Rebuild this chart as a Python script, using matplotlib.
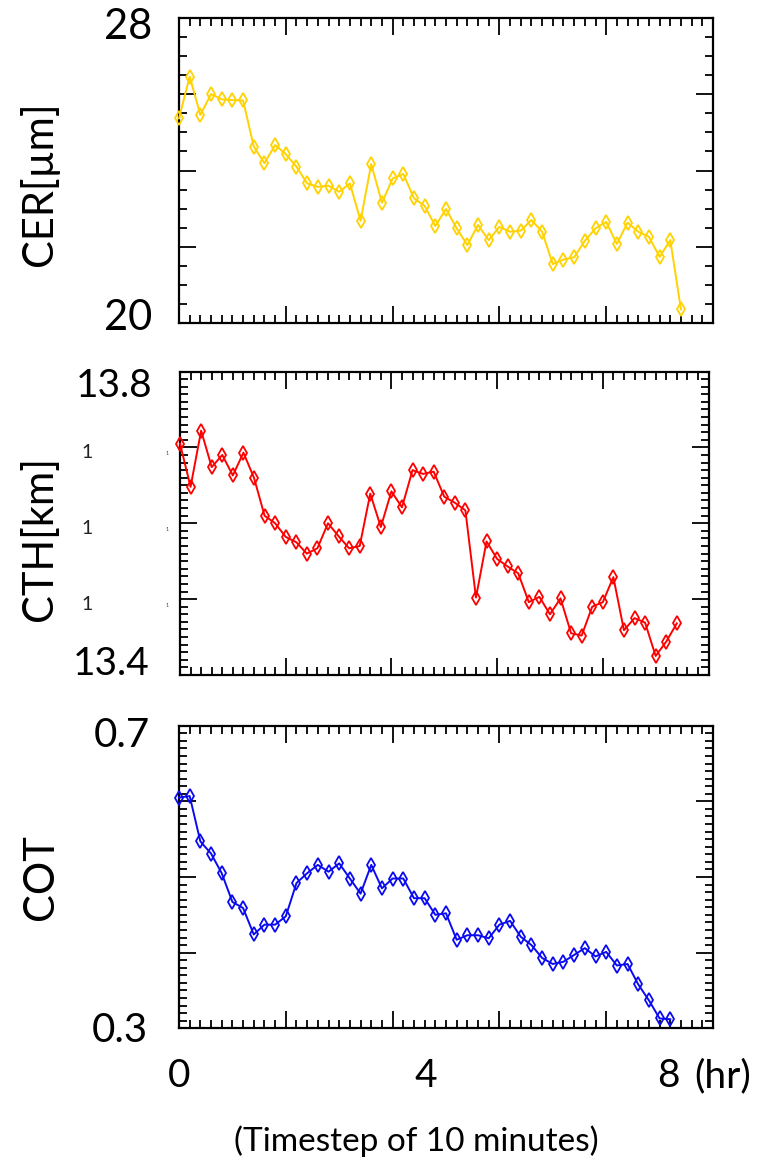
import matplotlib
matplotlib.use("Agg")
import matplotlib.pyplot as plt
from matplotlib.ticker import MultipleLocator

plt.rcParams['font.family'] = ['Lato', 'DejaVu Sans']

# ---------------- data (10-minute timesteps) ----------------
cer = [25.37, 26.47, 25.46, 26.01, 25.87, 25.85, 25.84, 24.63, 24.19, 24.67,
       24.43, 24.10, 23.66, 23.57, 23.60, 23.44, 23.66, 22.68, 24.17, 23.15,
       23.79, 23.91, 23.27, 23.07, 22.54, 22.99, 22.48, 22.04, 22.57, 22.17,
       22.52, 22.39, 22.42, 22.70, 22.39, 21.54, 21.66, 21.72, 22.15, 22.48,
       22.65, 22.07, 22.63, 22.39, 22.26, 21.73, 22.17, 20.35]

cth = [13.705, 13.648, 13.722, 13.674, 13.690, 13.663, 13.693, 13.660, 13.610, 13.600,
       13.582, 13.575, 13.560, 13.567, 13.600, 13.583, 13.567, 13.570, 13.639, 13.595,
       13.642, 13.621, 13.670, 13.665, 13.668, 13.635, 13.627, 13.617, 13.502, 13.576,
       13.553, 13.543, 13.534, 13.496, 13.503, 13.480, 13.501, 13.455, 13.452, 13.490,
       13.496, 13.529, 13.459, 13.475, 13.469, 13.425, 13.444, 13.468]

cot = [0.605, 0.607, 0.547, 0.531, 0.505, 0.467, 0.459, 0.424, 0.437, 0.437,
       0.448, 0.492, 0.505, 0.516, 0.507, 0.518, 0.498, 0.478, 0.516, 0.485,
       0.498, 0.498, 0.472, 0.472, 0.450, 0.452, 0.417, 0.423, 0.423, 0.419,
       0.437, 0.442, 0.421, 0.410, 0.393, 0.385, 0.388, 0.397, 0.406, 0.395,
       0.401, 0.383, 0.385, 0.358, 0.337, 0.313, 0.312]

cer_labels = ['28', '20']
cth_labels = ['13.8', '13.4']
cot_labels = ['0.7', '0.3']
cth_inner_values = [13.7, 13.6, 13.5]
cth_inner_labels = ['1', '1', '1']
hour_labels = ['0', '4', '8']
hour_label_steps = [0.0, 23.1, 45.8]
hour_unit = '(hr)'

ylabels = ['CER[µm]', 'CTH[km]', 'COT']
colors = ['#FFD200', '#FF0000', '#0A0AF0']

W, H = 769, 1160
fig = plt.figure(figsize=(W / 100, H / 100), dpi=100)


def px_axes(l, t, r, b):
    return fig.add_axes([l / W, 1 - b / H, (r - l) / W, (b - t) / H])


ax1 = px_axes(179, 18.3, 713, 322.7)
ax2 = px_axes(180, 371.5, 708.5, 675)
ax3 = px_axes(179, 725.7, 713, 1028.3)


def style(ax, ylo, yhi, ymaj, ymin):
    ax.set_xlim(0, 50)
    ax.set_ylim(ylo, yhi)
    ax.xaxis.set_major_locator(MultipleLocator(10))
    ax.xaxis.set_minor_locator(MultipleLocator(1))
    ax.yaxis.set_major_locator(MultipleLocator(ymaj))
    ax.yaxis.set_minor_locator(MultipleLocator(ymin))
    ax.tick_params(which='both', direction='in', top=True, right=True,
                   labelleft=False, labelbottom=False, color='black')
    ax.tick_params(which='major', length=12.3, width=1.3)
    ax.tick_params(which='minor', length=5.8, width=1.3)
    for s in ax.spines.values():
        s.set_linewidth(1.6)


def plot_series(ax, vals, color):
    x = list(range(len(vals)))
    ax.plot(x, vals, color=color, lw=1.4, marker='d', ms=7.5,
            mfc='none', mec=color, mew=1.3, clip_on=False, zorder=3)


plot_series(ax1, cer, colors[0])
plot_series(ax2, cth, colors[1])
plot_series(ax3, cot, colors[2])
style(ax1, 20, 28, 2, 0.5)
style(ax2, 13.4, 13.8, 0.1, 0.01)
style(ax3, 0.3, 0.7, 0.1, 0.01)


def corner_label(ax, txt, top, dx, dy, size):
    ax.annotate(txt, xy=(0, 1 if top else 0), xycoords='axes fraction',
                xytext=(dx, dy), textcoords='offset pixels',
                ha='right', va='baseline', fontsize=size, color='black')


corner_label(ax1, cer_labels[0], True, -27, -20.7, 30)
corner_label(ax1, cer_labels[1], False, -27, -7.3, 30)
corner_label(ax2, cth_labels[0], True, -28, -25.5, 28)
corner_label(ax2, cth_labels[1], False, -30, 0, 28)
corner_label(ax3, cot_labels[0], True, -29, -21.3, 29)
corner_label(ax3, cot_labels[1], False, -31, -13.7, 29)

# small truncated labels in CTH panel
for v, t in zip(cth_inner_values, cth_inner_labels):
    ax2.annotate(t, xy=(0, v), xycoords=ax2.get_yaxis_transform(),
                 xytext=(-93, -11), textcoords='offset pixels',
                 ha='center', va='baseline', fontsize=14, color='#222222')
    ax2.annotate('1', xy=(0, v), xycoords=ax2.get_yaxis_transform(),
                 xytext=(-13, -8), textcoords='offset pixels',
                 ha='center', va='baseline', fontsize=4, color='#444444')

# hour labels under bottom panel
for s, t in zip(hour_label_steps, hour_labels):
    ax3.annotate(t, xy=(s, 0), xycoords=ax3.get_xaxis_transform(),
                 xytext=(0, -58.7), textcoords='offset pixels',
                 ha='center', va='baseline', fontsize=28, color='black')
ax3.annotate(hour_unit, xy=(hour_label_steps[-1], 0),
             xycoords=ax3.get_xaxis_transform(),
             xytext=(26, -58.7), textcoords='offset pixels',
             ha='left', va='baseline', fontsize=28, color='black')

fig.text(416 / W, 1 - 1151 / H, '(Timestep of 10 minutes)', ha='center',
         va='baseline', fontsize=24, color='black')

# y labels
for (lab, yc, xb) in zip(ylabels, [184, 538.5, 877], [52, 52, 53]):
    fig.text(xb / W, 1 - yc / H, lab, rotation=90, rotation_mode='anchor',
             ha='center', va='baseline', fontsize=30, color='black')

fig.savefig('out.png', dpi=100)
